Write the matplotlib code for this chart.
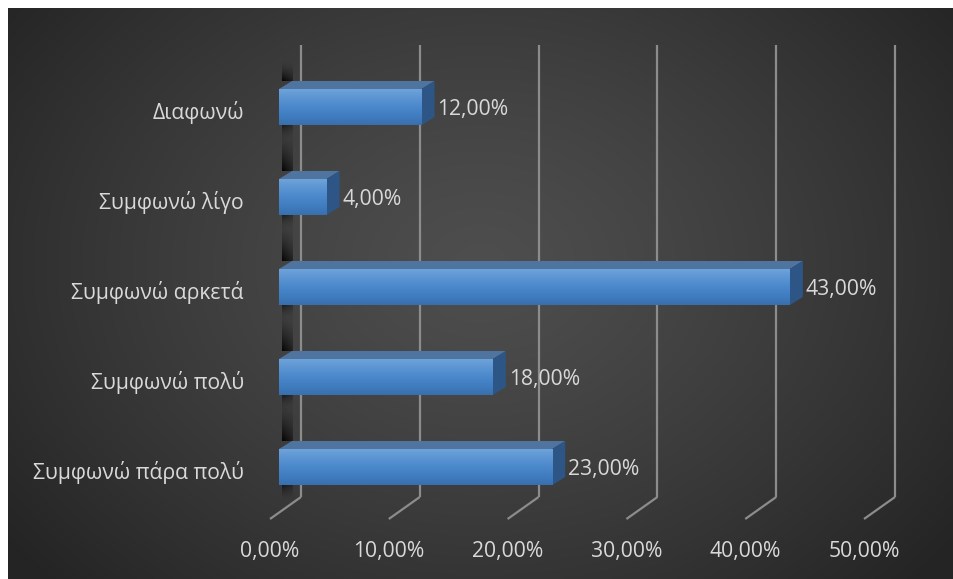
import numpy as np
import matplotlib
matplotlib.use('Agg')
import matplotlib.pyplot as plt
from matplotlib.colors import LinearSegmentedColormap

# ---------------- data ----------------
categories = ['Συμφωνώ πάρα πολύ', 'Συμφωνώ πολύ', 'Συμφωνώ αρκετά', 'Συμφωνώ λίγο', 'Διαφωνώ']
values = [23, 18, 43, 4, 12]
value_labels = ['23,00%', '18,00%', '43,00%', '4,00%', '12,00%']
xticks = [0, 10, 20, 30, 40, 50]
xtick_labels = ['0,00%', '10,00%', '20,00%', '30,00%', '40,00%', '50,00%']

plt.rcParams['font.family'] = ['Open Sans', 'DejaVu Sans']
TXT = '#d9d9d9'
FS = 15.2

W, H = 954, 579
fig = plt.figure(figsize=(W / 100, H / 100), dpi=100)
fig.patch.set_facecolor('white')

# ---------------- background panel (radial gradient) ----------------
bg = fig.add_axes([8 / W, 0, 1 - 8 / W, 1 - 8 / H])
bg.set_axis_off()
yy, xx = np.mgrid[0:1:300j, 0:1:500j]
r = np.sqrt(((xx - 0.5) / 0.62) ** 2 + ((yy - 0.45) / 0.8) ** 2)
val = 0.305 - 0.16 * np.clip(r, 0, 1) ** 1.3
img = np.dstack([val, val, val])
bg.imshow(img, extent=[0, 1, 0, 1], aspect='auto', origin='upper', interpolation='bilinear')
bg.set_xlim(0, 1)
bg.set_ylim(0, 1)

# ---------------- main axes (front plane of bars) ----------------
ax = fig.add_axes([279 / W, (H - 512) / H, 594 / W, 450 / H])
ax.set_axis_off()
ax.patch.set_alpha(0)
XMIN, XMAX = 0, 50
YMIN, YMAX = -0.5, len(categories) - 0.5
pos = ax.get_position()
sx = (XMAX - XMIN) / (pos.width * W)   # data units per pixel (x)
sy = (YMAX - YMIN) / (pos.height * H)  # data units per pixel (y)

GRID = '#8c8c8c'
# back-wall gridlines
BDX, BDY = 22, 15
for v in xticks:
    ax.plot([v + BDX * sx, v + BDX * sx], [YMIN + BDY * sy, YMAX + 17 * sy],
            color=GRID, lw=1.6, clip_on=False, zorder=1, solid_capstyle='butt')
# floor lines
FDX, FDY = -9, -7
for v in xticks:
    ax.plot([v + BDX * sx, v + FDX * sx], [YMIN + BDY * sy, YMIN + FDY * sy],
            color=GRID, lw=1.6, clip_on=False, zorder=1, solid_capstyle='butt')

# ---------------- bars ----------------
BH = 0.4
DX, DY = 13 * sx, 8 * sy
y_pos = np.arange(len(categories))

# shadows of the bars on the left wall
hx = np.linspace(1.0, 0.5, 30)
def shadow(y0, y1, dark_at_bottom, strength):
    n = 80
    v = np.linspace(0, 1, n)          # row 0 = top (origin='upper')
    fade = (v if dark_at_bottom else 1 - v) ** 1.8
    a = strength * np.outer(fade, hx)
    arr = np.zeros((n, 30, 4))
    arr[..., 3] = a
    ax.imshow(arr, extent=[3 * sx, 14 * sx, y0, y1], origin='upper',
              aspect='auto', zorder=2, interpolation='bilinear', clip_on=False)

for yv in y_pos:
    top = yv + BH / 2 + DY
    hgt = min(46 * sy, YMAX + 2 * sy - top)
    # above the bar: darkest right at the bar
    shadow(top, top + hgt, True, 0.95)
    # below the bar: short fade
    bot = yv - BH / 2
    shadow(bot - 16 * sy, bot, False, 0.6)

front_cmap = LinearSegmentedColormap.from_list(
    'front', ['#3a6fae', '#3f7dc0', '#4a88cb', '#5b94d2', '#6ea3da'])
grad = np.linspace(0, 1, 100).reshape(-1, 1)
bars = ax.barh(y_pos, values, height=BH, color='#4a86c8', zorder=5, clip_on=False)
for b, yv, v, lab in zip(bars, y_pos, values, value_labels):
    top = yv + BH / 2
    bot = yv - BH / 2
    # top face
    ax.fill([0, v, v + DX, DX], [top, top, top + DY, top + DY],
            color='#4f74a0', zorder=4, clip_on=False, lw=0)
    # side face
    ax.fill([v, v + DX, v + DX, v], [bot, bot + DY, top + DY, top],
            color='#2d5686', zorder=4, clip_on=False, lw=0)
    im = ax.imshow(grad, extent=[0, v, bot, top], cmap=front_cmap, origin='lower',
                   aspect='auto', zorder=6, interpolation='bilinear')
    im.set_clip_path(b)
    # value label
    ax.text(v + 16 * sx, yv - 3 * sy, lab, ha='left', va='center', color=TXT,
            fontsize=FS, zorder=8, clip_on=False)

# category labels
for yv, c in zip(y_pos, categories):
    ax.text(XMIN - 35 * sx, yv - 6 * sy, c, ha='right', va='center', color=TXT,
            fontsize=FS, clip_on=False)

# x tick labels
for v, t in zip(xticks, xtick_labels):
    ax.text(v + FDX * sx, YMIN - 39 * sy, t, ha='center', va='center', color=TXT,
            fontsize=FS, clip_on=False)

ax.set_xlim(XMIN, XMAX)
ax.set_ylim(YMIN, YMAX)

fig.savefig('out.png', dpi=100, facecolor=fig.get_facecolor())
